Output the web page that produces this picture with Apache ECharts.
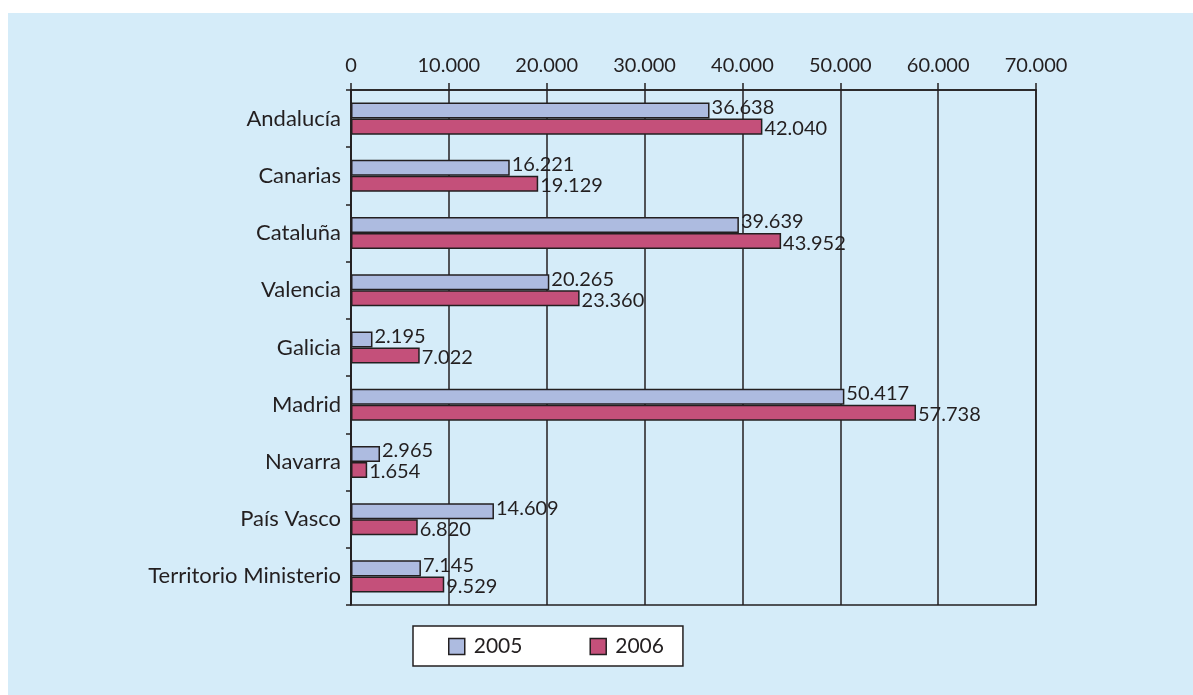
<!DOCTYPE html>
<html>
<head>
<meta charset="utf-8">
<script src="https://cdn.jsdelivr.net/npm/echarts@6/dist/echarts.min.js"></script>
<style>
  html, body { margin: 0; padding: 0; background: #ffffff; width: 1193px; height: 695px; overflow: hidden; }
  #chart { position: absolute; left: 8px; top: 13px; width: 1185px; height: 682px; }
</style>
</head>
<body>
<div id="chart"></div>
<script>
// data
var regions = ['Andalucía', 'Canarias', 'Cataluña', 'Valencia', 'Galicia', 'Madrid', 'Navarra', 'País Vasco', 'Territorio Ministerio'];
var values2005 = [36638, 16221, 39639, 20265, 2195, 50417, 2965, 14609, 7145];
var values2006 = [42040, 19129, 43952, 23360, 7022, 57738, 1654, 6820, 9529];
var seriesNames = ['2005', '2006'];

var font = 'Lato';
var ink = '#231f20';

// spanish thousands separator
function fmt(v) {
    return String(Math.round(v)).replace(/\B(?=(\d{3})+(?!\d))/g, '.');
}

var myChart = echarts.init(document.getElementById('chart'));

function barSeries(name, values, color, dy) {
    return {
        name: name,
        type: 'bar',
        data: values,
        barGap: '0%',
        barCategoryGap: '44%',
        itemStyle: { color: color, borderColor: ink, borderWidth: 1.5 },
        label: {
            show: true,
            position: 'right',
            distance: 2,
            offset: [0, dy],
            color: ink,
            fontFamily: font,
            fontSize: 20,
            formatter: function(p) { return fmt(p.value); }
        }
    };
}

var option = {
    backgroundColor: '#d5ecf9',
    animation: false,
    grid: {
        left: 343, top: 77, right: 157, bottom: 90,
        show: true,
        borderColor: ink,
        borderWidth: 1.5,
        backgroundColor: 'transparent'
    },
    xAxis: {
        type: 'value',
        position: 'top',
        min: 0,
        max: 70000,
        interval: 10000,
        axisLine: { show: true, lineStyle: { color: ink, width: 1.5 } },
        axisTick: { show: true, length: 7, lineStyle: { color: ink, width: 1.5 } },
        splitLine: { show: true, lineStyle: { color: ink, width: 1.5 } },
        axisLabel: {
            margin: 14,
            color: ink,
            fontFamily: font,
            fontSize: 20,
            formatter: function(v) { return fmt(v); }
        }
    },
    yAxis: {
        type: 'category',
        data: regions,
        inverse: true,
        axisLine: { show: true, lineStyle: { color: ink, width: 1.5 } },
        axisTick: { show: true, length: 5, lineStyle: { color: ink, width: 1.5 } },
        axisLabel: { margin: 10, color: ink, fontFamily: font, fontSize: 22 }
    },
    legend: {
        data: seriesNames,
        left: 405,
        top: 613,
        orient: 'horizontal',
        icon: 'rect',
        backgroundColor: '#ffffff',
        borderColor: ink,
        borderWidth: 1.5,
        borderRadius: 0,
        padding: [10, 19, 9, 35],
        itemGap: 67,
        itemWidth: 16,
        itemHeight: 16,
        itemStyle: { borderColor: ink, borderWidth: 1.5 },
        textStyle: { color: ink, fontFamily: font, fontSize: 21, padding: [0, 0, 0, 4] }
    },
    series: [
        barSeries(seriesNames[0], values2005, '#adbbe0', -3),
        barSeries(seriesNames[1], values2006, '#c4507a', 2)
    ]
};

myChart.setOption(option);
</script>
</body>
</html>
